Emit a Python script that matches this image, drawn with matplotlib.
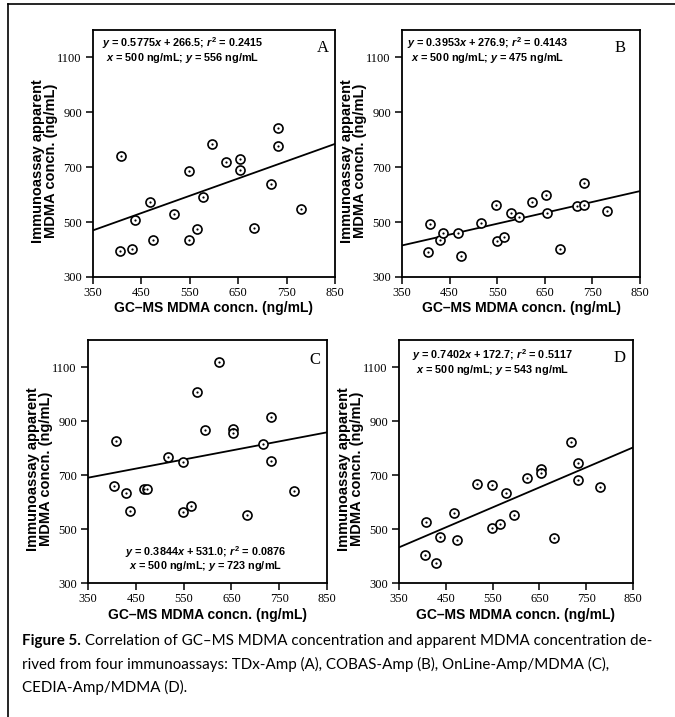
import numpy as np
import matplotlib.pyplot as plt
from matplotlib.lines import Line2D

# GC-MS MDMA concentration (ng/mL), same 20 specimens in every panel
gcms = [405, 408, 430, 437, 468, 473, 517, 548, 549, 565,
        578, 595, 624, 653, 654, 682, 717, 732, 733, 780]

# apparent MDMA concentration (ng/mL) from each immunoassay
tdx = [395, 742, 401, 507, 574, 434, 529, 688, 434, 476,
       592, 785, 718, 731, 689, 478, 639, 843, 777, 547]
cobas = [391, 492, 433, 462, 460, 376, 495, 563, 431, 447,
         535, 517, 573, 597, 534, 402, 560, 644, 561, 541]
online = [660, 827, 635, 568, 648, 648, 768, 748, 564, 586,
          1006, 866, 1117, 869, 854, 553, 814, 916, 753, 642]
cedia = [404, 527, 375, 469, 560, 458, 667, 664, 502, 517,
         632, 551, 688, 721, 709, 465, 823, 743, 681, 654]

letters = ["A", "B", "C", "D"]
slopes = [0.5775, 0.3953, 0.3844, 0.7402]
intercepts = [266.5, 276.9, 531.0, 172.7]
r2 = ["0.2415", "0.4143", "0.0876", "0.5117"]
y500 = [556, 475, 723, 543]

# regression lines as drawn in the figure (value at x=350 and x=850)
line_x = [350, 850]
line_ends = [(470, 785), (415, 613), (690, 858), (432, 802)]

xticks = [350, 450, 550, 650, 750, 850]
yticks = [300, 500, 700, 900, 1100]

plt.rcParams['mathtext.fontset'] = 'custom'
plt.rcParams['mathtext.it'] = 'Liberation Sans:bold:italic'
plt.rcParams['mathtext.rm'] = 'Liberation Sans:bold'
plt.rcParams['mathtext.bf'] = 'Liberation Sans:bold'

W, H = 675, 717
fig = plt.figure(figsize=(W / 100, H / 100), dpi=100)

def px_axes(left, right, top, bottom):
    return fig.add_axes([left / W, (H - bottom) / H, (right - left) / W, (bottom - top) / H])

# pixel boxes of the four panels
boxes = [(93, 335, 30, 277), (402, 640, 30, 277),
         (88, 327, 340, 583), (399, 633, 340, 583)]
# equation text placement (centre x, line1 y, line2 y) in axes fraction
eq_pos = [(0.37, 0.945, 0.885), (0.36, 0.945, 0.885),
          (0.49, 0.128, 0.068), (0.40, 0.938, 0.877)]
let_pos = [(0.95, 0.927), (0.916, 0.927), (0.95, 0.918), (0.944, 0.926)]

data = [tdx, cobas, online, cedia]

for i in range(4):
    ax = px_axes(*boxes[i])
    ax.set_xlim(350, 850)
    ax.set_ylim(300, 1200)
    for s in ax.spines.values():
        s.set_linewidth(1.3)
    ax.set_xticks(xticks)
    ax.set_yticks(yticks)
    ax.tick_params(direction='out', length=5, width=1.1, labelsize=9)
    ax.tick_params(axis='y', pad=3)
    ax.tick_params(axis='x', pad=2)
    for lab in ax.get_xticklabels() + ax.get_yticklabels():
        lab.set_family('Liberation Serif')

    ax.plot(line_x, line_ends[i], color='black', lw=1.3, zorder=2)
    ax.plot(gcms, data[i], 'o', ms=6.5, mfc='white', mec='black', mew=1.2, zorder=3)
    ax.plot(gcms, data[i], 'o', ms=1.6, mfc='black', mec='black', mew=0, zorder=4)

    cx, y1, y2 = eq_pos[i]
    ax.text(cx, y1, "$y$ = %.4f$x$ + %.1f; $r^2$ = %s" % (slopes[i], intercepts[i], r2[i]),
            transform=ax.transAxes, ha='center', va='center', fontsize=7.8,
            family='Liberation Sans', weight='bold')
    ax.text(cx, y2, "$x$ = 500 ng/mL; $y$ = %d ng/mL" % y500[i],
            transform=ax.transAxes, ha='center', va='center', fontsize=7.8,
            family='Liberation Sans', weight='bold')
    ax.text(let_pos[i][0], let_pos[i][1], letters[i], transform=ax.transAxes,
            ha='center', va='center', fontsize=12, family='Liberation Serif')

    ax.set_xlabel("GC\u2013MS MDMA concn. (ng/mL)", fontsize=10, weight='bold',
                  family='Liberation Sans', labelpad=2)
    ax.set_ylabel("Immunoassay apparent\nMDMA concn. (ng/mL)", fontsize=10.5, weight='bold',
                  family='Liberation Sans', linespacing=0.9)
    ax.yaxis.set_label_coords(-35 / (boxes[i][1] - boxes[i][0]), 0.47)

# outer frame (left and top)
fig.add_artist(Line2D([8 / W, 8 / W], [0, 1 - 4 / H], color='black', lw=1.2))
fig.add_artist(Line2D([8 / W, 1], [1 - 4 / H, 1 - 4 / H], color='black', lw=1.2))

# caption
cap_font = 'Lato'
cap_size = 10.9
t1 = fig.text(22 / W, 1 - 641 / H, "Figure 5.", fontsize=cap_size, family=cap_font,
              weight='bold', va='center', ha='left')
plt.annotate(" Correlation of GC\u2013MS MDMA concentration and apparent MDMA concentration de-",
             xy=(1, 0), xycoords=t1, va='bottom', ha='left', fontsize=cap_size,
             family=cap_font, annotation_clip=False)
fig.text(22 / W, 1 - 664 / H,
         "rived from four immunoassays: TDx-Amp (A), COBAS-Amp (B), OnLine-Amp/MDMA (C),",
         fontsize=cap_size, family=cap_font, va='center', ha='left')
fig.text(22 / W, 1 - 687 / H, "CEDIA-Amp/MDMA (D).",
         fontsize=cap_size, family=cap_font, va='center', ha='left')

fig.savefig("out.png", dpi=100)
